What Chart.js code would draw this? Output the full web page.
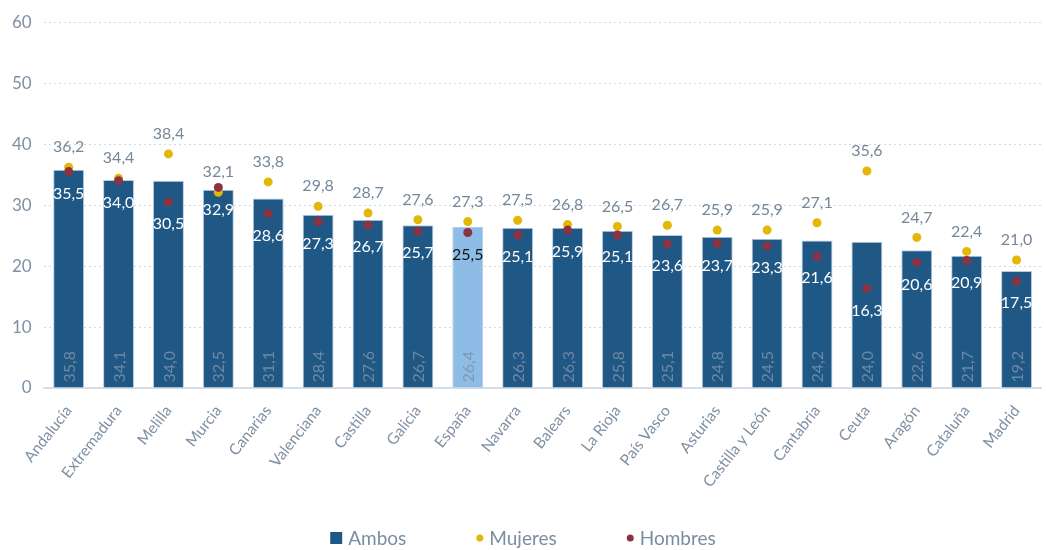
<!DOCTYPE html>
<html>
<head>
<meta charset="utf-8">
<script src="https://cdn.jsdelivr.net/npm/chart.js@4"></script>
<style>
  html, body { margin: 0; padding: 0; background: #fff; }
  #wrap { width: 1046px; height: 550px; }
</style>
</head>
<body>
<div id="wrap"><canvas id="chart"></canvas></div>
<script>
const regions = ['Andalucía', 'Extremadura', 'Melilla', 'Murcia', 'Canarias', 'Valenciana', 'Castilla',
  'Galicia', 'España', 'Navarra', 'Balears', 'La Rioja', 'País Vasco', 'Asturias', 'Castilla y León',
  'Cantabria', 'Ceuta', 'Aragón', 'Cataluña', 'Madrid'];
const ambos = [35.8, 34.1, 34.0, 32.5, 31.1, 28.4, 27.6, 26.7, 26.4, 26.3, 26.3, 25.8, 25.1, 24.8, 24.5, 24.2, 24.0, 22.6, 21.7, 19.2];
const mujeres = [36.2, 34.4, 38.4, 32.1, 33.8, 29.8, 28.7, 27.6, 27.3, 27.5, 26.8, 26.5, 26.7, 25.9, 25.9, 27.1, 35.6, 24.7, 22.4, 21.0];
const hombres = [35.5, 34.0, 30.5, 32.9, 28.6, 27.3, 26.7, 25.7, 25.5, 25.1, 25.9, 25.1, 23.6, 23.7, 23.3, 21.6, 16.3, 20.6, 20.9, 17.5];
const yTicks = [0, 10, 20, 30, 40, 50, 60];

const FONT = 'Lato, "Open Sans", sans-serif';
const GREY = '#75879a';
const DARK = '#1f5785';
const LIGHT = '#8dbde6';
const GOLD = '#e2b706';
const WINE = '#8c3343';

const fmt = v => v.toFixed(1).replace('.', ',');

// draws the value labels (no datalabels plugin available offline)
const valueLabels = {
  id: 'valueLabels',
  afterDatasetsDraw(chart) {
    const ctx = chart.ctx;
    ctx.save();
    ctx.font = '16px ' + FONT;
    ctx.textAlign = 'center';
    ctx.textBaseline = 'middle';

    // Ambos: vertical, at the foot of each bar
    chart.getDatasetMeta(0).data.forEach((bar, i) => {
      ctx.save();
      ctx.translate(bar.x, bar.base - 5);
      ctx.rotate(-Math.PI / 2);
      ctx.textAlign = 'left';
      ctx.fillStyle = i === 8 ? '#7d98b3' : '#6f88a2';
      ctx.fillText(fmt(ambos[i]), 0, 1);
      ctx.restore();
    });

    // Mujeres: above the dot
    chart.getDatasetMeta(1).data.forEach((pt, i) => {
      ctx.fillStyle = GREY;
      ctx.fillText(fmt(mujeres[i]), pt.x, pt.y - 20);
    });

    // Hombres: below the dot, inside the bar
    chart.getDatasetMeta(2).data.forEach((pt, i) => {
      ctx.fillStyle = i === 8 ? '#111' : '#fff';
      ctx.fillText(fmt(hombres[i]), pt.x, pt.y + 22);
    });
    ctx.restore();
  }
};

// legend at the bottom: square for the bars, small dots for the points
const bottomLegend = {
  id: 'bottomLegend',
  afterDraw(chart) {
    const ctx = chart.ctx;
    const items = chart.data.datasets.map((ds, i) => ({
      text: ds.label,
      color: i === 0 ? DARK : ds.pointBackgroundColor,
      square: i === 0
    }));
    const y = 538;
    const gap = 70;
    ctx.save();
    ctx.font = '19px ' + FONT;
    ctx.textBaseline = 'middle';
    const widths = items.map(it => (it.square ? 12 : 7) + 6 + ctx.measureText(it.text).width);
    const total = widths.reduce((a, b) => a + b, 0) + gap * (items.length - 1);
    let x = chart.width / 2 - total / 2;
    items.forEach((it, i) => {
      ctx.fillStyle = it.color;
      if (it.square) {
        ctx.fillRect(x, y - 6, 12, 12);
        x += 12;
      } else {
        ctx.beginPath();
        ctx.arc(x + 3.5, y, 3.5, 0, Math.PI * 2);
        ctx.fill();
        x += 7;
      }
      x += 6;
      ctx.fillStyle = '#7b8da0';
      ctx.fillText(it.text, x, y + 1);
      x += ctx.measureText(it.text).width + gap;
    });
    ctx.restore();
  }
};

const ctx = document.getElementById('chart').getContext('2d');
new Chart(ctx, {
  data: {
    labels: regions,
    datasets: [
      {
        type: 'bar',
        label: 'Ambos',
        data: ambos,
        backgroundColor: regions.map(r => (r === 'España' ? LIGHT : DARK)),
        borderColor: '#b7cbe0',
        borderWidth: 1,
        barPercentage: 0.62,
        categoryPercentage: 1,
        order: 3
      },
      {
        type: 'line',
        label: 'Mujeres',
        data: mujeres,
        showLine: false,
        pointRadius: 4.5,
        pointBackgroundColor: GOLD,
        pointBorderWidth: 0,
        backgroundColor: GOLD,
        order: 2
      },
      {
        type: 'line',
        label: 'Hombres',
        data: hombres,
        showLine: false,
        pointRadius: 4.5,
        pointBackgroundColor: WINE,
        pointBorderWidth: 0,
        backgroundColor: WINE,
        order: 1
      }
    ]
  },
  options: {
    responsive: true,
    maintainAspectRatio: false,
    animation: false,
    layout: { padding: { top: 12, right: 2, left: 0, bottom: 4 } },
    plugins: {
      tooltip: { enabled: false },
      legend: { display: false }
    },
    scales: {
      x: {
        grid: { display: false },
        border: { color: '#d3dde8', width: 2 },
        ticks: {
          color: '#7f90a3',
          font: { family: FONT, size: 15.5 },
          minRotation: 52,
          maxRotation: 52,
          padding: 6
        },
        afterFit(scale) { scale.height = 158; }
      },
      y: {
        min: 0,
        max: 60,
        afterBuildTicks(scale) { scale.ticks = yTicks.map(v => ({ value: v })); },
        grid: { color: '#d4d8dd', drawTicks: false },
        border: { display: false, dash: [2, 3] },
        ticks: {
          color: '#7f90a3',
          font: { family: FONT, size: 17 },
          padding: 12
        }
      }
    }
  },
  plugins: [valueLabels, bottomLegend]
});
</script>
</body>
</html>
